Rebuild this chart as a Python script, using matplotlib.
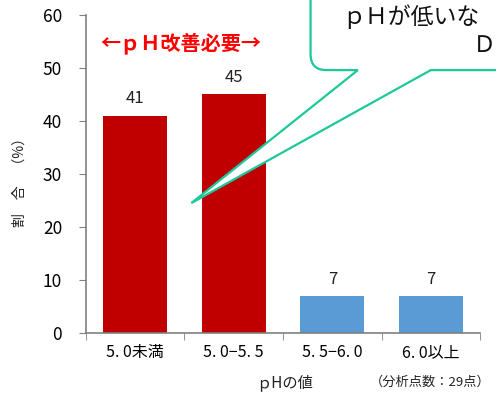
import numpy as np
import matplotlib.pyplot as plt
from matplotlib.path import Path
from matplotlib.patches import PathPatch

plt.rcParams['font.family'] = ['Noto Sans CJK JP', 'DejaVu Sans']

categories = ['5. 0未満', '5. 0−5. 5', '5. 5−6. 0', '6. 0以上']
shares = [41, 45, 7, 7]
colors = ['#C00000', '#C00000', '#5B9BD5', '#5B9BD5']

fig = plt.figure(figsize=(4.96, 3.94), dpi=100)
ax = fig.add_axes([0.173, 0.155, 0.795, 0.807])

x = np.arange(len(categories))
bars = ax.bar(x, shares, width=0.65, color=colors, zorder=2)
for xi, v in zip(x, shares):
    ax.annotate(str(v), (xi, v), xytext=(0, 6), textcoords='offset points',
                ha='center', va='bottom', fontsize=12, color='#222222')

ax.set_xlim(-0.5, 3.5)
ax.set_ylim(0, 60)
ax.set_yticks(range(0, 61, 10))
ax.set_xticks(x)
ax.set_xticklabels(categories, fontsize=11.5)
ax.set_xticks(np.arange(-0.5, 4, 1), minor=True)
ax.tick_params(axis='x', which='major', length=0, pad=8)
ax.tick_params(axis='x', which='minor', length=5, color='#808080')
ax.tick_params(axis='y', length=5, color='#808080', pad=12, labelsize=12.5)
for s in ['top', 'right']:
    ax.spines[s].set_visible(False)
for s in ['left', 'bottom']:
    ax.spines[s].set_color('#808080')
    ax.spines[s].set_linewidth(1.2)

# red range note above the first two bars
ax.text(0.46, 54.7, '←ｐＨ改善必要→', color='#FF0000', fontsize=14.5,
        fontweight='bold', ha='center', va='center')

# speech bubble pointing at the low-pH bars
x0, x1, yb, ytop = 1.78, 4.2, 49.6, 68
rx, ry = 0.16, 3.0
p1, p2 = 2.26, 3.0
tip = (0.57, 24.5)
verts = [(x0, ytop), (x0, yb + ry), (x0, yb), (x0 + rx, yb), (p1, yb), tip,
         (p2, yb), (x1, yb), (x1, ytop), (x0, ytop)]
codes = [Path.MOVETO, Path.LINETO, Path.CURVE3, Path.CURVE3, Path.LINETO,
         Path.LINETO, Path.LINETO, Path.LINETO, Path.LINETO, Path.CLOSEPOLY]
bubble = PathPatch(Path(verts, codes), facecolor='white', edgecolor='#1CC99A',
                   linewidth=1.6, clip_on=False, zorder=5)
ax.add_patch(bubble)
ax.text(2.10, 59.6, 'ｐＨが低いな', fontsize=16.5, ha='left', va='center',
        color='#111111', zorder=6, clip_on=False)
ax.text(3.43, 54.3, 'Ｄ', fontsize=16.5, ha='left', va='center',
        color='#111111', zorder=6, clip_on=False)

fig.text(0.04, 0.545, '割　合　（%）', rotation=90, ha='center', va='center',
         fontsize=10, color='#222222')
fig.text(0.573, 0.03, 'ｐHの値', ha='center', va='center', fontsize=11,
         color='#222222')
fig.text(0.99, 0.03, '（分析点数：29点）', ha='right', va='center', fontsize=9.5,
         color='#222222')

fig.savefig('out.png', dpi=100)
